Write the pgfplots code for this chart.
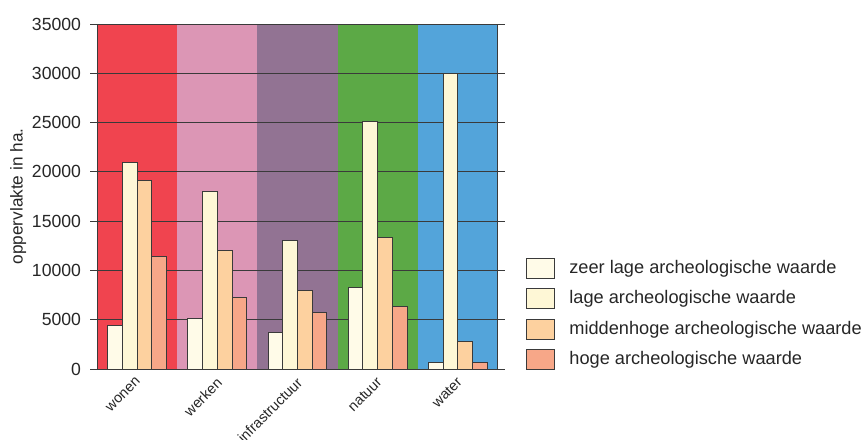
\documentclass[border=0pt]{standalone}
\usepackage{pgfplots}
\pgfplotsset{compat=1.18}
\usepackage{fontspec}
\setmainfont{Liberation Sans}
\definecolor{cwonen}{HTML}{F0444F}
\definecolor{cwerken}{HTML}{DC96B5}
\definecolor{cinfra}{HTML}{927393}
\definecolor{cnatuur}{HTML}{5CA946}
\definecolor{cwater}{HTML}{53A4DA}
\definecolor{czl}{HTML}{FFFBE8}
\definecolor{cl}{HTML}{FEF7D6}
\definecolor{cmh}{HTML}{FDD19F}
\definecolor{ch}{HTML}{F7A788}
\definecolor{cline}{HTML}{3A3A3A}
\begin{document}
\begin{tikzpicture}
\begin{axis}[
  set layers,
  at={(48.5pt,35pt)}, anchor=south west,
  scale only axis, width=200.5pt, height=172.5pt,
  ybar=0pt, bar width=7.35pt,
  xmin=-0.5, xmax=4.5, ymin=0, ymax=35000,
  xtick={0,1,2,3,4},
  xticklabels={wonen,werken,infrastructuur,natuur,water},
  x tick style={draw=none},
  x tick label style={rotate=45, anchor=north east, xshift=0.3pt, yshift=1.5pt, inner sep=1pt, font=\fontsize{7.2}{8}\selectfont},
  ytick={0,5000,...,35000},
  scaled y ticks=false,
  yticklabel style={/pgf/number format/1000 sep={}, font=\fontsize{8.8}{10}\selectfont, xshift=-1pt},
  /pgf/number format/assume math mode=true,
  tick align=outside, major tick length=3.5pt,
  y tick style={cline, line width=0.5pt},
  ymajorgrids, grid style={cline, line width=0.5pt},
  axis line style={cline, line width=0.5pt},
  tick label style={text=black!85},
  ylabel={oppervlakte in ha.},
  ylabel style={font=\fontsize{8.6}{10}\selectfont, text=black!85, yshift=-4pt},
  every axis plot/.append style={draw=cline, line width=0.5pt},
  legend cell align=left,
  legend image code/.code={\draw[#1] (0pt,-5pt) rectangle (14pt,5pt);},
  legend style={draw=none, fill=none, at={(1,0)}, anchor=south west, xshift=11pt, yshift=-3.5pt,
    font=\fontsize{9.1}{10.5}\selectfont, text=black!85, row sep=3.1pt,
    /tikz/every odd column/.append style={column sep=5pt}},
]
\begin{pgfonlayer}{axis background}
\fill[cwonen] (axis cs:-0.5,0) rectangle (axis cs:0.5,35000);
\fill[cwerken] (axis cs:0.5,0) rectangle (axis cs:1.5,35000);
\fill[cinfra] (axis cs:1.5,0) rectangle (axis cs:2.5,35000);
\fill[cnatuur] (axis cs:2.5,0) rectangle (axis cs:3.5,35000);
\fill[cwater] (axis cs:3.5,0) rectangle (axis cs:4.5,35000);
\end{pgfonlayer}
\addplot[fill=czl] coordinates {(0,4400) (1,5100) (2,3700) (3,8300) (4,700)};
\addplot[fill=cl] coordinates {(0,21000) (1,18000) (2,13000) (3,25100) (4,30000)};
\addplot[fill=cmh] coordinates {(0,19100) (1,12000) (2,8000) (3,13300) (4,2800)};
\addplot[fill=ch] coordinates {(0,11400) (1,7300) (2,5700) (3,6300) (4,700)};
\legend{zeer lage archeologische waarde, lage archeologische waarde, middenhoge archeologische waarde, hoge archeologische waarde}
\end{axis}
\pgfresetboundingbox
\useasboundingbox (0,0) rectangle (432.5pt,219.5pt);
\end{tikzpicture}
\end{document}
